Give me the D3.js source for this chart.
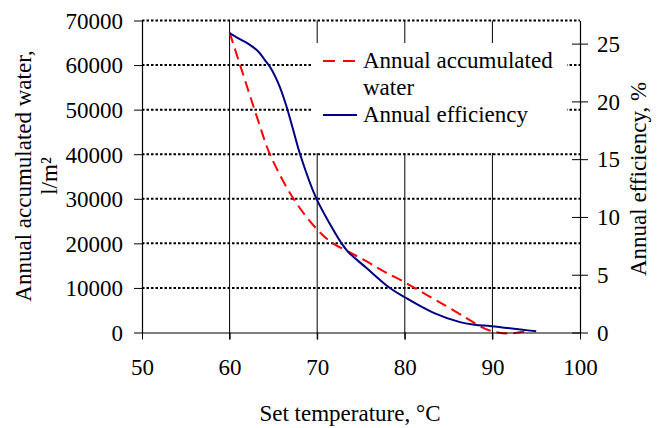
<!DOCTYPE html>
<html>
<head>
<meta charset="utf-8">
<script src="https://cdn.jsdelivr.net/npm/d3@7"></script>
<style>
  body { margin: 0; background: #fff; }
  svg text { font-family: "Liberation Serif", Tinos, "Times New Roman", Times, "DejaVu Serif", serif; font-size: 23px; fill: #000; }
</style>
</head>
<body>
<div id="chart"></div>
<script>
var waterTemp = [60, 61.2, 62.3, 63.3, 64.6, 67.3, 70, 71.8, 73.5, 75.6, 77.5, 79.5, 82, 84.5, 87, 88.5, 89.6, 90.6, 92, 93.7]
var waterVal = [67300, 60000, 53300, 47300, 40000, 30000, 23100, 20000, 18200, 16000, 13800, 11800, 9000, 6200, 3300, 1500, 500, 0, -250, 250]

var effTemp = [60, 61, 62.1, 63.3, 64, 64.6, 65.6, 66.4, 67.2, 68.1, 69.9, 71.6, 72.8, 73.5, 75.6, 78.3, 80, 83.3, 86.3, 88, 89.9, 95]
var effVal = [25.9, 25.45, 25.0, 24.3, 23.6, 23.0, 21.5, 19.8, 17.7, 15.3, 11.6, 9.2, 7.7, 7.0, 5.6, 3.85, 3.05, 1.7, 0.9, 0.68, 0.55, 0.1]

var xTicks = [50, 60, 70, 80, 90, 100]
var leftTicks = [0, 10000, 20000, 30000, 40000, 50000, 60000, 70000]
var rightTicks = [0, 5, 10, 15, 20, 25]

var W = 658, H = 428
var margin = {top: 20.5, right: 78, bottom: 95.5, left: 142}
var width = W - margin.left - margin.right
var height = H - margin.top - margin.bottom
var serif = "'Liberation Serif', Tinos, 'Times New Roman', Times, 'DejaVu Serif', serif"

var svg = d3.select("#chart").append("svg")
    .attr("width", W)
    .attr("height", H)
    .attr("font-family", serif)
    .attr("font-size", 23)

var g = svg.append("g")
    .attr("transform", "translate(" + margin.left + "," + margin.top + ")")

var x = d3.scaleLinear().domain([50, 100]).range([0, width])
var yL = d3.scaleLinear().domain([0, 70000]).range([height, 0])
var yR = d3.scaleLinear().domain([0, 27]).range([height, 0])

// dotted horizontal grid
g.selectAll(".hgrid")
    .data(leftTicks.slice(1))
    .enter().append("line")
    .attr("x1", 0).attr("x2", width)
    .attr("y1", function(d){ return yL(d) })
    .attr("y2", function(d){ return yL(d) })
    .attr("stroke", "#000")
    .attr("stroke-width", 2)
    .attr("stroke-dasharray", "2.5,2")

// solid vertical grid, running into the tick marks below
g.selectAll(".vgrid")
    .data(xTicks.slice(1, -1))
    .enter().append("line")
    .attr("x1", function(d){ return x(d) })
    .attr("x2", function(d){ return x(d) })
    .attr("y1", 0).attr("y2", height + 7)
    .attr("stroke", "#000")
    .attr("stroke-width", 1)

// legend background hides the grid
var legend = g.append("g").attr("transform", "translate(" + (313 - margin.left) + "," + (43 - margin.top) + ")")
legend.append("rect")
    .attr("width", 254).attr("height", 110)
    .attr("fill", "#fff")

var waterData = waterTemp.map(function(t, i){ return [t, waterVal[i]] })
var effData = effTemp.map(function(t, i){ return [t, effVal[i]] })

g.append("path")
    .datum(waterData)
    .attr("fill", "none")
    .attr("stroke", "#ff0000")
    .attr("stroke-width", 2)
    .attr("stroke-dasharray", "11,6")
    .attr("d", d3.line().curve(d3.curveCatmullRom.alpha(0.5))
      .x(function(d){ return x(d[0]) })
      .y(function(d){ return yL(d[1]) }))

g.append("path")
    .datum(effData)
    .attr("fill", "none")
    .attr("stroke", "#000080")
    .attr("stroke-width", 2)
    .attr("d", d3.line().curve(d3.curveCatmullRom.alpha(0.5))
      .x(function(d){ return x(d[0]) })
      .y(function(d){ return yR(d[1]) }))

// axes
var xAxis = g.append("g")
    .call(d3.axisBottom(x).tickValues(xTicks).tickSize(7).tickSizeOuter(0).tickFormat(d3.format("d")))
    .attr("transform", "translate(0," + height + ")")
xAxis.selectAll("text").attr("y", 42).attr("dy", 0)

var leftAxis = g.append("g")
    .call(d3.axisLeft(yL).tickValues(leftTicks).tickSize(8).tickSizeOuter(0).tickPadding(11).tickFormat(d3.format("d")))
leftAxis.selectAll("text").attr("dy", "0.34em")

var rightAxis = g.append("g")
    .call(d3.axisRight(yR).tickValues(rightTicks).tickSize(8).tickSizeOuter(0).tickPadding(9))
    .attr("transform", "translate(" + width + ",0)")
rightAxis.selectAll(".tick line").attr("x1", -8)
rightAxis.selectAll("text").attr("dy", "0.34em")

g.selectAll(".domain").attr("stroke", "#000").attr("stroke-width", 1.2)
g.selectAll(".tick line").attr("stroke", "#000")
// d3 puts sans-serif on the axis groups, put the serif back
xAxis.attr("font-family", serif).attr("font-size", 23)
leftAxis.attr("font-family", serif).attr("font-size", 23)
rightAxis.attr("font-family", serif).attr("font-size", 23)

// axis titles
svg.append("text")
    .attr("x", 350).attr("y", 421)
    .attr("text-anchor", "middle")
    .text("Set temperature, °C")

var lt = svg.append("text")
    .attr("transform", "translate(31,176) rotate(-90)")
    .attr("text-anchor", "middle")
lt.append("tspan").attr("x", 0).attr("y", 0).text("Annual accumulated water,")
lt.append("tspan").attr("x", 0).attr("y", 26).text("l/m²")

svg.append("text")
    .attr("transform", "translate(646,179) rotate(-90)")
    .attr("text-anchor", "middle")
    .text("Annual efficiency, %")

// legend entries
legend.append("line")
    .attr("x1", 10).attr("x2", 44).attr("y1", 18).attr("y2", 18)
    .attr("stroke", "#ff0000").attr("stroke-width", 2).attr("stroke-dasharray", "12,8")
legend.append("text").attr("x", 50).attr("y", 25).text("Annual accumulated")
legend.append("text").attr("x", 50).attr("y", 52).text("water")
legend.append("line")
    .attr("x1", 10).attr("x2", 44).attr("y1", 72).attr("y2", 72)
    .attr("stroke", "#000080").attr("stroke-width", 2)
legend.append("text").attr("x", 50).attr("y", 79).text("Annual efficiency")
</script>
</body>
</html>
